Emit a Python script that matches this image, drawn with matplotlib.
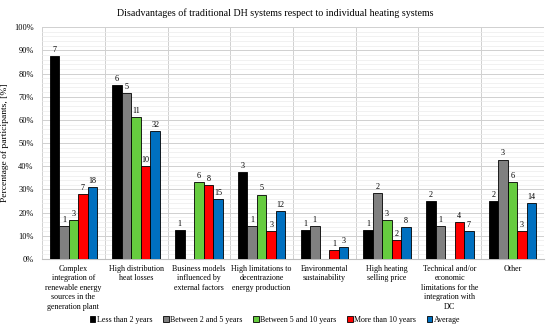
import numpy as np
import matplotlib
matplotlib.use('Agg')
import matplotlib.pyplot as plt
from matplotlib.ticker import MultipleLocator, FuncFormatter

plt.rcParams['font.family'] = ['Liberation Serif', 'DejaVu Serif']

categories = ["Complex\nintegration of\nrenewable energy\nsources in the\ngeneration plant",
              "High distribution\nheat losses",
              "Business models\ninfluenced by\nexternal factors",
              "High limitations to\ndecentrazione\nenergy production",
              "Environmental\nsustainability",
              "High heating\nselling price",
              "Technical and/or\neconomic\nlimitations for the\nintegration with\nDC",
              "Other"]

series_names = ["Less than 2 years", "Between 2 and 5 years", "Between 5 and 10 years",
                "More than 10 years", "Average"]
colors = ["#000000", "#808080", "#66CC3F", "#FF0000", "#0070C0"]

# percentage of participants per group
less_2 = [87.5, 75.0, 12.5, 37.5, 12.5, 12.5, 25.0, 25.0]
btw_2_5 = [14.3, 71.4, 0.0, 14.3, 14.3, 28.6, 14.3, 42.9]
btw_5_10 = [16.7, 61.1, 33.3, 27.8, 0.0, 16.7, 0.0, 33.3]
more_10 = [28.0, 40.0, 32.0, 12.0, 4.0, 8.0, 16.0, 12.0]
average = [31.0, 55.2, 25.9, 20.7, 5.2, 13.8, 12.1, 24.1]

# number of answers written on top of the bars
less_2_n = [7, 6, 1, 3, 1, 1, 2, 2]
btw_2_5_n = [1, 5, 0, 1, 1, 2, 1, 3]
btw_5_10_n = [3, 11, 6, 5, 0, 3, 0, 6]
more_10_n = [7, 10, 8, 3, 1, 2, 4, 3]
average_n = [18, 32, 15, 12, 3, 8, 7, 14]

values = [less_2, btw_2_5, btw_5_10, more_10, average]
counts = [less_2_n, btw_2_5_n, btw_5_10_n, more_10_n, average_n]

fig = plt.figure(figsize=(5.5, 3.31), dpi=100)
ax = fig.add_axes([0.0764, 0.2175, 0.9126, 0.7005])

x = np.arange(len(categories))
w = 0.152
for i in range(5):
    pos = x + (i - 2) * w
    bars = ax.bar(pos, values[i], w, color=colors[i], edgecolor='black', linewidth=0.6,
                  label=series_names[i], zorder=3)
    labs = [str(c) if c > 0 else "" for c in counts[i]]
    ax.bar_label(bars, labels=labs, padding=1.5, fontsize=5.9)

ax.set_xlim(-0.5, len(categories) - 0.5)
ax.set_ylim(0, 100)
ax.yaxis.set_major_locator(MultipleLocator(10))
ax.yaxis.set_minor_locator(MultipleLocator(2))
ax.yaxis.set_major_formatter(FuncFormatter(lambda v, p: "%d%%" % v))
ax.grid(axis='y', which='major', color='#d0d0d0', linewidth=0.7, zorder=0)
ax.grid(axis='y', which='minor', color='#ececec', linewidth=0.5, zorder=0)
for b in np.arange(-0.5, len(categories), 1.0):
    ax.axvline(b, color='#d0d0d0', linewidth=0.7, zorder=0)

ax.set_xticks(x)
ax.set_xticklabels(categories, fontsize=5.8, linespacing=1.25, va='top')
ax.tick_params(axis='x', length=0, pad=4)
ax.tick_params(axis='y', which='both', length=0, labelsize=6.0, pad=6)
for s in ['top', 'right', 'left']:
    ax.spines[s].set_visible(False)
ax.spines['bottom'].set_color('#bfbfbf')
ax.spines['bottom'].set_linewidth(0.8)

ax.set_ylabel("Percentage of participants, [%]", fontsize=6.8, labelpad=4)
fig.suptitle("Disadvantages of traditional DH systems respect to individual heating systems",
             fontsize=7.2, y=0.975)

fig.legend(loc='lower center', bbox_to_anchor=(0.5, 0.0), ncol=5, fontsize=5.8, frameon=False,
           handlelength=0.7, handleheight=0.7, handletextpad=0.2, columnspacing=1.3)

plt.savefig("out.png", dpi=100)
plt.close()
